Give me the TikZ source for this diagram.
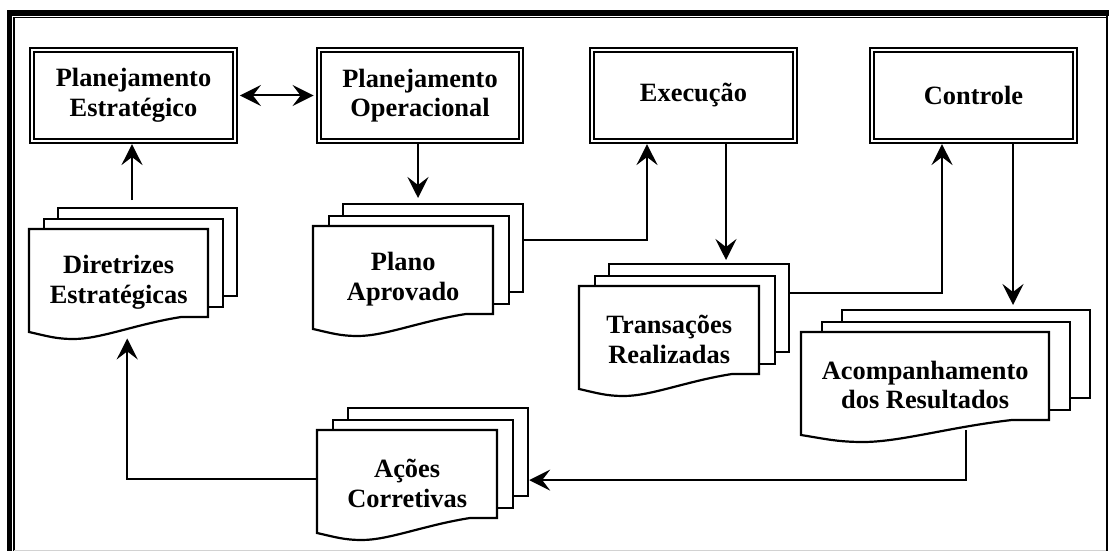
\documentclass[tikz,border=0pt]{standalone}
\usepackage{fontspec}
\setmainfont{Liberation Serif}
\usetikzlibrary{arrows.meta,backgrounds,calc}
\newcommand\lbl{\bfseries\fontsize{26.4}{29.5}\selectfont}
\tikzset{
  >={Stealth[length=21pt,width=21pt,inset=8pt]},
  procbox/.style={draw, line width=2pt, double=white, double distance=2.3pt, fill=white,
    minimum width=202.5pt, minimum height=90.7pt, inner sep=0pt, outer sep=3.2pt,
    align=center, font=\lbl},
  page/.style={draw, line width=2.2pt, fill=white, minimum height=88pt, inner sep=0pt,
    outer sep=1.1pt, anchor=north west},
  pageline/.style={draw, line width=2.2pt, fill=white, line join=miter},
  doctext/.style={anchor=north west, minimum height=106pt, inner sep=0pt, align=center, font=\lbl},
  conn/.style={line width=2pt},
  arr/.style={conn, ->},
  biarr/.style={conn, <->},
}
% #1 name, #2 x0, #3 y0, #4 width, #5 dx, #6 dy, #7 text
\newcommand{\docstack}[7]{%
  \node[page, minimum width=#4pt] (#13) at ({#2+2*#5},{#3-2*#6}) {};
  \node[page, minimum width=#4pt] (#12) at ({#2+#5},{#3-#6}) {};
  \draw[pageline] (#2,#3) -- ({#2+#4},#3) -- ({#2+#4},{#3+88}) -- ({#2+0.85*#4},{#3+88})
    .. controls ({#2+0.6*#4},{#3+95}) and ({#2+0.4*#4},{#3+110}) .. ({#2+0.25*#4},{#3+110})
    .. controls ({#2+0.15*#4},{#3+110}) and ({#2+0.1*#4},{#3+107}) .. (#2,{#3+103}) -- cycle;
  \node[doctext, minimum width=#4pt] (#1) at (#2,#3) {#7};
}
\begin{document}
\begin{tikzpicture}[x=1pt,y=-1pt]
\useasboundingbox (0,0) rectangle (1109,551);
% frame
\draw[line width=5.5pt] (9.5,551) |- (1109,13);
\draw[line width=1.2pt] (14,551) |- (1106,17.5);
\draw[line width=2pt] (1106.5,13) -- (1106.5,551);
\draw[gray!35, line width=1pt] (14,550) -- (1106,550);
% process boxes
\node[procbox] (b1) at (133.5,95.5) {Planejamento\\Estratégico};
\node[procbox] (b2) at (420,95.5) {Planejamento\\Operacional};
\node[procbox] (b3) at (693.5,95.5) {Execução};
\node[procbox] (b4) at (973.5,95.5) {Controle};
% documents
\docstack{D}{29}{229}{179}{14}{11}{Diretrizes\\Estratégicas}
\docstack{P}{313}{226}{180}{14.5}{11.5}{Plano\\Aprovado}
\docstack{T}{579}{286}{180}{14.5}{11.5}{Transações\\Realizadas}
\docstack{A}{801}{332}{248}{20}{11.5}{Acompanhamento\\dos Resultados}
\docstack{C}{317}{430}{180}{15}{11.5}{Ações\\Corretivas}
% connectors
\begin{pgfonlayer}{background}
\draw[biarr, shorten <=2pt, shorten >=2pt] (b1.east) -- (b2.west);
\draw[arr, shorten <=7pt] ([xshift=-1.5pt]b1.south |- D3.north) -- ([xshift=-1.5pt]b1.south);
\draw[arr, shorten >=5pt] ([xshift=-2pt]b2.south) -- ([xshift=-2pt]b2.south |- P3.north);
\draw[arr] ([yshift=8pt]P3.east) -| ([xshift=-46.5pt]b3.south);
\draw[arr, shorten >=3pt] ([xshift=32.5pt]b3.south) -- ([xshift=32.5pt]b3.south |- T3.north);
\draw[arr] ([yshift=15pt]T3.east) -| ([xshift=-31.5pt]b4.south);
\draw[arr, shorten >=4pt] ([xshift=39.5pt]b4.south) -- ([xshift=39.5pt]b4.south |- A3.north);
\draw[arr] ([xshift=41pt,yshift=8pt]A.south) |- ([yshift=-28pt]C3.east);
\draw[arr] ([yshift=4pt]C.west) -| ([xshift=8.5pt,yshift=-3pt]D.south);
\end{pgfonlayer}
\end{tikzpicture}
\end{document}
